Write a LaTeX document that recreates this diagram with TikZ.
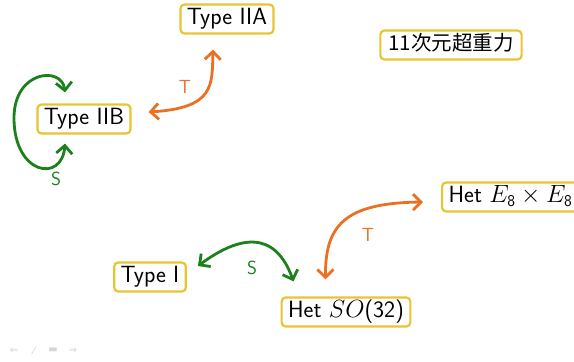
\documentclass[tikz,border=0pt]{standalone}
\usepackage{fontspec}
\newfontfamily\cjkfont{Noto Sans CJK JP}
\newfontfamily\symfont{DejaVu Sans}
\usetikzlibrary{arrows.meta}
\definecolor{boxyellow}{RGB}{232,196,48}
\definecolor{torange}{RGB}{236,112,36}
\definecolor{sgreen}{RGB}{28,128,28}
\definecolor{navgray}{RGB}{212,212,212}
\tikzset{
  theory/.style={draw=boxyellow, line width=2.2pt, rounded corners=4pt, fill=white,
    font=\sffamily\fontsize{23.5}{27}\selectfont, inner xsep=6.5pt, inner ysep=0pt,
    minimum height=29pt, text height=16pt, text depth=5pt},
  barb/.tip={Straight Barb[length=8pt,width=16pt]},
  tarrow/.style={draw=torange, line width=2.8pt, barb-barb},
  sarrow/.style={draw=sgreen, line width=2.8pt, barb-barb},
  tlabel/.style={text=torange, font=\sffamily\fontsize{19}{21}\selectfont},
  slabel/.style={text=sgreen, font=\sffamily\fontsize{19}{21}\selectfont},
  nav/.style={text=navgray, font=\symfont\fontsize{10}{11}\selectfont}
}
\begin{document}
\begin{tikzpicture}[x=1pt,y=-1pt]
\useasboundingbox (0,0) rectangle (574,362);
\node[theory] (iia) at (227,19) {Type IIA};
\node[theory, font=\cjkfont\fontsize{20.5}{24}\selectfont, inner xsep=8pt] (m11) at (451,45) {11次元超重力};
\node[theory] (iib) at (84,119) {Type IIB};
\node[theory] (ti) at (150,277) {Type I};
\node[theory] (so) at (346,312) {Het $SO$(32)};
\node[theory, anchor=west] (e8) at (441,197) {Het $E_{\mathsf{8}}\times E_{\mathsf{8}}$};

% T: IIB <-> IIA
\draw[tarrow] ([xshift=17pt,yshift=7pt]iib.east) .. controls (215,108) and (212,85) .. ([xshift=-14pt,yshift=-15pt]iia.south);
\node[tlabel] (t1) at (185,87) {T};

% S loop on IIB
\draw[sarrow] ([xshift=-19pt,yshift=11pt]iib.north) .. controls (62,66) and (14,70) .. (14,118)
  .. controls (14,175) and (62,183) .. ([xshift=-19pt,yshift=-9pt]iib.south);
\node[slabel] (s1) at (56,179) {S};

% S: Type I <-> SO(32)
\draw[sarrow] ([xshift=11pt,yshift=11pt]ti.east) .. controls (240,235) and (275,230) .. ([xshift=13pt,yshift=15pt]so.north west);
\node[slabel] (s2) at (252,268) {S};

% T: SO(32) <-> E8xE8
\draw[tarrow] ([xshift=45pt,yshift=17pt]so.north west) .. controls (325,225) and (345,203) .. ([xshift=-18pt,yshift=-5pt]e8.west);
\node[tlabel] (t2) at (368,235) {T};

% navigation symbols
\node[nav] (n1) at (14,351) {⇐};
\node[nav] (n2) at (34,351) {⁄};
\node[nav] (n3) at (53,350) {▬};
\node[nav] (n4) at (73,351) {⇒};
\end{tikzpicture}
\end{document}
